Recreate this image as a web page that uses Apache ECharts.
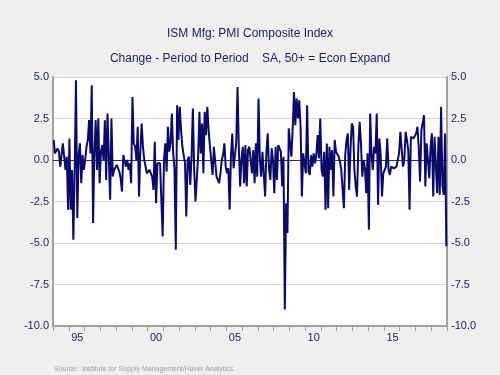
<!DOCTYPE html>
<html>
<head>
<meta charset="utf-8">
<script src="https://cdn.jsdelivr.net/npm/echarts@6/dist/echarts.min.js"></script>
<style>
  html, body { margin: 0; padding: 0; background: #efefef; }
  #chart { width: 500px; height: 375px; }
</style>
</head>
<body>
<div id="chart"></div>
<script>
// monthly change in the ISM PMI, one array per year (Jan..Dec)
var y1994 = [1.2, 0.4, 0.4, 0.7, 0.5, -0.4, -0.5, 1.0, 0.2, -0.6, 0.2, -3.0];
var y1995 = [1.3, -3.0, -0.6, -4.8, -0.6, 4.8, -3.5, 0.3, 1.0, -1.4, 0.3, -0.6];
var y1996 = [0.0, 0.8, 1.2, 2.4, 0.4, 4.5, -3.8, 0.4, 2.4, -0.6, 2.5, -1.4];
var y1997 = [0.5, 0.9, 0.0, 2.4, -1.2, 2.8, 0.2, -2.4, 2.5, -1.0, -0.6, -0.5];
var y1998 = [-0.3, -0.2, -0.7, -1.1, -1.9, 0.3, 0.2, -0.4, 0.0, -0.6, -0.2, -1.4];
var y1999 = [3.8, 1.0, 0.8, 0.0, 2.0, -2.2, 0.5, 2.2, 0.8, 0.0, 0.0, -0.8];
var y2000 = [-0.9, -0.6, -0.8, -1.0, -1.8, 1.1, -2.6, -0.2, -0.2, -0.2, -0.3, -4.6];
var y2001 = [0.0, 1.0, -0.7, 2.0, 0.5, 1.0, 2.8, 0.4, -0.5, -5.4, 3.3, 1.2];
var y2002 = [3.2, 1.8, 0.8, 0.7, -0.2, -3.4, 0.0, 0.2, -1.5, 0.2, 3.1, -0.6];
var y2003 = [-2.5, -2.4, 0.2, 2.9, 0.4, 2.2, -0.8, 2.9, 1.5, 3.2, 1.8, 0.8];
var y2004 = [0.7, -0.9, 0.8, 0.8, -1.0, -1.2, -1.4, -0.8, 0.0, 0.3, 1.0, -0.4];
var y2005 = [-0.8, -0.5, -3.0, 0.2, 1.6, -0.5, -0.4, 1.0, 4.4, 0.7, -1.6, 0.0];
var y2006 = [0.8, -1.4, 0.9, -1.6, 0.6, 0.8, 0.8, -0.8, 0.6, -1.4, 1.0, -1.0];
var y2007 = [3.7, 0.1, -1.0, 0.5, 0.5, -2.2, 0.5, 1.6, -0.6, -1.2, 0.7, 0.0];
var y2008 = [-2.0, 0.8, -1.2, 0.9, 0.9, 0.5, -1.6, 0.2, -9.0, -2.6, -4.4, 1.9];
var y2009 = [1.0, 0.2, 1.9, 4.1, 2.1, 3.7, 2.5, 3.6, 2.0, -2.2, 0.4, 0.5];
var y2010 = [-0.8, 3.3, -0.7, -0.9, 0.3, -0.4, 0.4, -0.2, 0.3, 1.5, 0.1, 2.5];
var y2011 = [-0.6, -1.0, 0.5, -3.0, 1.0, -2.9, 0.8, -0.6, 0.6, -2.2, 1.2, 0.5];
var y2012 = [0.5, 0.2, -0.1, -0.6, -0.5, -2.9, 0.3, 1.2, 1.6, -1.8, 0.6, 2.2];
var y2013 = [2.0, -0.6, -1.6, -2.2, 0.8, 2.3, 1.0, -1.0, 0.0, -0.5, -2.0, 0.4];
var y2014 = [-4.2, 2.8, 0.4, -0.6, 0.8, 0.4, 2.8, -2.7, 1.3, 0.3, -2.2, -0.8];
var y2015 = [-0.9, -0.4, 1.3, -0.6, -0.9, -0.4, -0.5, -0.5, -0.6, -0.4, -0.5, 0.4];
var y2016 = [1.7, 1.7, -0.4, 0.0, 1.7, 1.2, 0.6, -3.0, 1.4, 1.5, 1.3, 1.4];
var y2017 = [1.6, 2.0, 0.7, -1.3, 1.8, 1.7, 2.7, -1.6, 1.0, 0.0, -1.1, 0.8];
var y2018 = [1.6, -2.2, 1.4, 1.5, -2.0, 1.4, -2.1, 3.2, -1.5, -2.1, 1.6, -5.2];

var years = [1994, 1995, 1996, 1997, 1998, 1999, 2000, 2001, 2002, 2003, 2004, 2005,
    2006, 2007, 2008, 2009, 2010, 2011, 2012, 2013, 2014, 2015, 2016, 2017, 2018];
var yearData = [y1994, y1995, y1996, y1997, y1998, y1999, y2000, y2001, y2002, y2003,
    y2004, y2005, y2006, y2007, y2008, y2009, y2010, y2011, y2012, y2013, y2014, y2015,
    y2016, y2017, y2018];
var labelYears = [1995, 2000, 2005, 2010, 2015];

var months = [];
var values = [];
for (var k = 0; k < years.length; k++) {
    for (var m = 0; m < 12; m++) {
        months.push(years[k] + '-' + (m + 1));
        values.push(yearData[k][m]);
    }
}

var navy = '#1c1c64';
var axisGray = '#a0a0a0';

var chart = echarts.init(document.getElementById('chart'), null, { renderer: 'canvas' });

var yAxisCommon = {
    type: 'value',
    min: -10,
    max: 5,
    interval: 2.5,
    axisLine: { show: true, lineStyle: { color: axisGray, width: 2 } },
    axisTick: { show: false },
    axisLabel: {
        color: navy,
        fontFamily: 'Liberation Sans',
        fontSize: 11,
        margin: 4,
        formatter: function (v) { return v.toFixed(1); }
    }
};

chart.setOption({
    backgroundColor: '#efefef',
    animation: false,
    title: [
        {
            text: 'ISM Mfg: PMI Composite Index',
            left: 'center',
            top: 23,
            textStyle: { color: navy, fontFamily: 'Liberation Sans', fontSize: 12, fontWeight: 'normal' }
        },
        {
            text: 'Change - Period to Period    SA, 50+ = Econ Expand',
            left: 'center',
            top: 48,
            textStyle: { color: navy, fontFamily: 'Liberation Sans', fontSize: 12, fontWeight: 'normal' }
        },
        {
            text: 'Source:  Institute for Supply Management/Haver Analytics',
            left: 54,
            top: 366,
            padding: 0,
            textStyle: { color: '#a0a0a0', fontFamily: 'Liberation Sans', fontSize: 7, fontWeight: 'normal' }
        }
    ],
    grid: {
        left: 53,
        right: 53,
        top: 77,
        bottom: 49,
        show: true,
        backgroundColor: '#ffffff',
        borderWidth: 0
    },
    xAxis: {
        type: 'category',
        data: months,
        boundaryGap: true,
        axisLine: { show: true, onZero: false, lineStyle: { color: axisGray, width: 2 } },
        axisTick: {
            show: true,
            length: 5,
            lineStyle: { color: axisGray },
            interval: function (index) { return index % 12 === 0; }
        },
        axisLabel: {
            color: navy,
            fontFamily: 'Liberation Sans',
            fontSize: 11,
            margin: 6,
            interval: function (index, value) {
                var yr = parseInt(value.split('-')[0], 10);
                return index % 12 === 6 && labelYears.indexOf(yr) >= 0;
            },
            formatter: function (value) { return value.split('-')[0].slice(2); }
        },
        splitLine: { show: false }
    },
    yAxis: [
        Object.assign({}, yAxisCommon, {
            position: 'left',
            splitLine: { show: true, lineStyle: { color: '#d4d4d4', width: 1 } }
        }),
        Object.assign({}, yAxisCommon, {
            position: 'right',
            splitLine: { show: false }
        })
    ],
    series: [
        {
            type: 'line',
            data: values,
            yAxisIndex: 0,
            symbol: 'none',
            lineStyle: { color: '#0a0a6a', width: 2 },
            markLine: {
                silent: true,
                symbol: 'none',
                label: { show: false },
                lineStyle: { color: '#333333', width: 1, type: 'solid' },
                data: [{ yAxis: 0 }],
                z: 1
            },
            z: 3
        }
    ]
});
</script>
</body>
</html>
